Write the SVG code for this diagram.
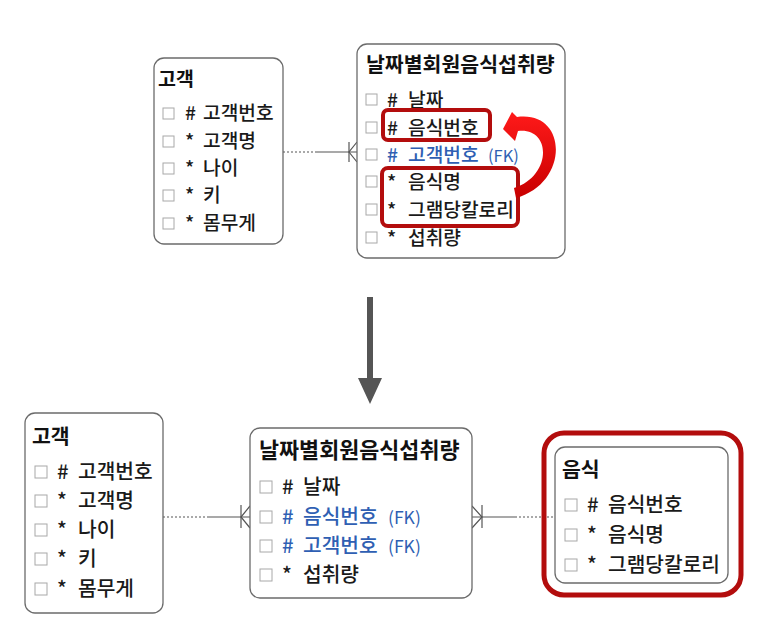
<svg xmlns="http://www.w3.org/2000/svg" width="768" height="632" viewBox="0 0 768 632">
<style>
.box{fill:#fff;stroke:#6b6b6b;stroke-width:1.3}
.cb{fill:#fff;stroke:#a8a8a8;stroke-width:1}
.t{font-family:"Noto Sans CJK KR","Noto Sans",sans-serif;font-weight:bold;fill:#111}
.r{font-family:"Noto Sans CJK KR","Noto Sans",sans-serif;font-weight:500;fill:#1a1a1a}
.b{fill:#2f5fb3}
.fk{font-family:"Noto Sans CJK KR","Noto Sans",sans-serif;font-weight:normal;fill:#2f5fb3}
.hl{fill:none;stroke:#b30d0d;stroke-width:4}
.ln{stroke:#555;stroke-width:1.2;fill:none}
.dot{stroke:#555;stroke-width:1.2;stroke-dasharray:2 2;fill:none}
</style>
<defs>
<linearGradient id="rg" x1="0" y1="0" x2="0" y2="1">
<stop offset="0" stop-color="#ff1a1a"/>
<stop offset="1" stop-color="#c80000"/>
</linearGradient>
</defs>

<g id="connectors">
<line class="dot" x1="283" y1="152" x2="315" y2="152"/>
<line class="ln" x1="315" y1="152" x2="357" y2="152"/>
<line class="ln" x1="349" y1="142" x2="349" y2="162"/>
<polyline class="ln" points="357,142 349,152 357,162"/>

<line class="dot" x1="163" y1="517" x2="207" y2="517"/>
<line class="ln" x1="207" y1="517" x2="250" y2="517"/>
<line class="ln" x1="241" y1="505" x2="241" y2="528"/>
<polyline class="ln" points="250,506 241,517 250,528"/>

<line class="ln" x1="472" y1="517" x2="515" y2="517"/>
<line class="dot" x1="515" y1="517" x2="555" y2="517"/>
<line class="ln" x1="482" y1="505" x2="482" y2="528"/>
<polyline class="ln" points="472,506 482,517 472,528"/>

<polygon points="367,297 373,297 373,378 382,378 370,404 358,378 367,378" fill="#555"/>
</g>

<g id="top-customer">
<rect class="box" x="154" y="58" width="129" height="186" rx="10"/>
<text class="t" x="158" y="86" font-size="19.5">고객</text>
<g class="r" font-size="19.2">
<rect class="cb" x="163" y="108" width="11" height="11"/><text x="185" y="120">#</text><text x="203" y="120">고객번호</text>
<rect class="cb" x="163" y="136" width="11" height="11"/><text x="185" y="148">*</text><text x="203" y="148">고객명</text>
<rect class="cb" x="163" y="163" width="11" height="11"/><text x="185" y="175">*</text><text x="203" y="175">나이</text>
<rect class="cb" x="163" y="190" width="11" height="11"/><text x="185" y="202">*</text><text x="203" y="202">키</text>
<rect class="cb" x="163" y="218" width="11" height="11"/><text x="185" y="230">*</text><text x="203" y="230">몸무게</text>
</g>
</g>

<g id="top-intake">
<rect class="box" x="357" y="44" width="208" height="214" rx="10"/>
<text class="t" x="366" y="72" font-size="20.5">날짜별회원음식섭취량</text>
<g class="r" font-size="19.2">
<rect class="cb" x="366" y="94" width="11" height="11"/><text x="387" y="106.5">#</text><text x="408" y="106.5">날짜</text>
<rect class="cb" x="366" y="122" width="11" height="11"/><text x="387" y="134.5">#</text><text x="408" y="134.5">음식번호</text>
<rect class="cb" x="366" y="149" width="11" height="11"/><text class="b" x="387" y="161.5">#</text><text class="b" x="408" y="161.5">고객번호</text><text class="fk" x="488" y="161.5" font-size="16.5">(FK)</text>
<rect class="cb" x="366" y="176" width="11" height="11"/><text x="387" y="188.5">*</text><text x="408" y="188.5">음식명</text>
<rect class="cb" x="366" y="204" width="11" height="11"/><text x="387" y="216.5">*</text><text x="408" y="216.5">그램당칼로리</text>
<rect class="cb" x="366" y="232" width="11" height="11"/><text x="387" y="244.5">*</text><text x="408" y="244.5">섭취량</text>
</g>
<rect class="hl" x="383" y="110" width="107" height="30" rx="5"/>
<rect class="hl" x="382" y="168" width="136" height="58" rx="6"/>
<path d="M516 198 C570 183,568 110,517 117 L512 112 L503 129 L515 141 L518 131 C552 127,552 176,514 188 Z" fill="url(#rg)"/>
</g>

<g id="bottom-customer">
<rect class="box" x="25" y="413" width="138" height="200" rx="10"/>
<text class="t" x="32" y="444" font-size="20.5">고객</text>
<g class="r" font-size="20.3">
<rect class="cb" x="35" y="466" width="12" height="12"/><text x="57" y="479.3">#</text><text x="78" y="479.3">고객번호</text>
<rect class="cb" x="35" y="495" width="12" height="12"/><text x="57" y="508.3">*</text><text x="78" y="508.3">고객명</text>
<rect class="cb" x="35" y="524" width="12" height="12"/><text x="57" y="537.3">*</text><text x="78" y="537.3">나이</text>
<rect class="cb" x="35" y="553" width="12" height="12"/><text x="57" y="566.3">*</text><text x="78" y="566.3">키</text>
<rect class="cb" x="35" y="583" width="12" height="12"/><text x="57" y="596.3">*</text><text x="78" y="596.3">몸무게</text>
</g>
</g>

<g id="bottom-intake">
<rect class="box" x="250" y="428" width="222" height="170" rx="10"/>
<text class="t" x="259" y="458" font-size="21.8">날짜별회원음식섭취량</text>
<g class="r" font-size="20.3">
<rect class="cb" x="260" y="481" width="12" height="12"/><text x="282" y="494.3">#</text><text x="303" y="494.3">날짜</text>
<rect class="cb" x="260" y="511" width="12" height="12"/><text class="b" x="282" y="524.3">#</text><text class="b" x="303" y="524.3">음식번호</text><text class="fk" x="388" y="524.3" font-size="17.5">(FK)</text>
<rect class="cb" x="260" y="540" width="12" height="12"/><text class="b" x="282" y="553.3">#</text><text class="b" x="303" y="553.3">고객번호</text><text class="fk" x="388" y="553.3" font-size="17.5">(FK)</text>
<rect class="cb" x="260" y="569" width="12" height="12"/><text x="282" y="582.3">*</text><text x="303" y="582.3">섭취량</text>
</g>
</g>

<g id="bottom-food">
<rect x="544" y="433" width="197" height="162" rx="20" fill="none" stroke="#b30d0d" stroke-width="5"/>
<rect class="box" x="555" y="447" width="173" height="136" rx="10"/>
<text class="t" x="562" y="477" font-size="20.5">음식</text>
<g class="r" font-size="20.3">
<rect class="cb" x="565" y="499" width="12" height="12"/><text x="587" y="512.3">#</text><text x="608" y="512.3">음식번호</text>
<rect class="cb" x="565" y="529" width="12" height="12"/><text x="587" y="542.3">*</text><text x="608" y="542.3">음식명</text>
<rect class="cb" x="565" y="559" width="12" height="12"/><text x="587" y="572.3">*</text><text x="608" y="572.3">그램당칼로리</text>
</g>
</g>
</svg>
